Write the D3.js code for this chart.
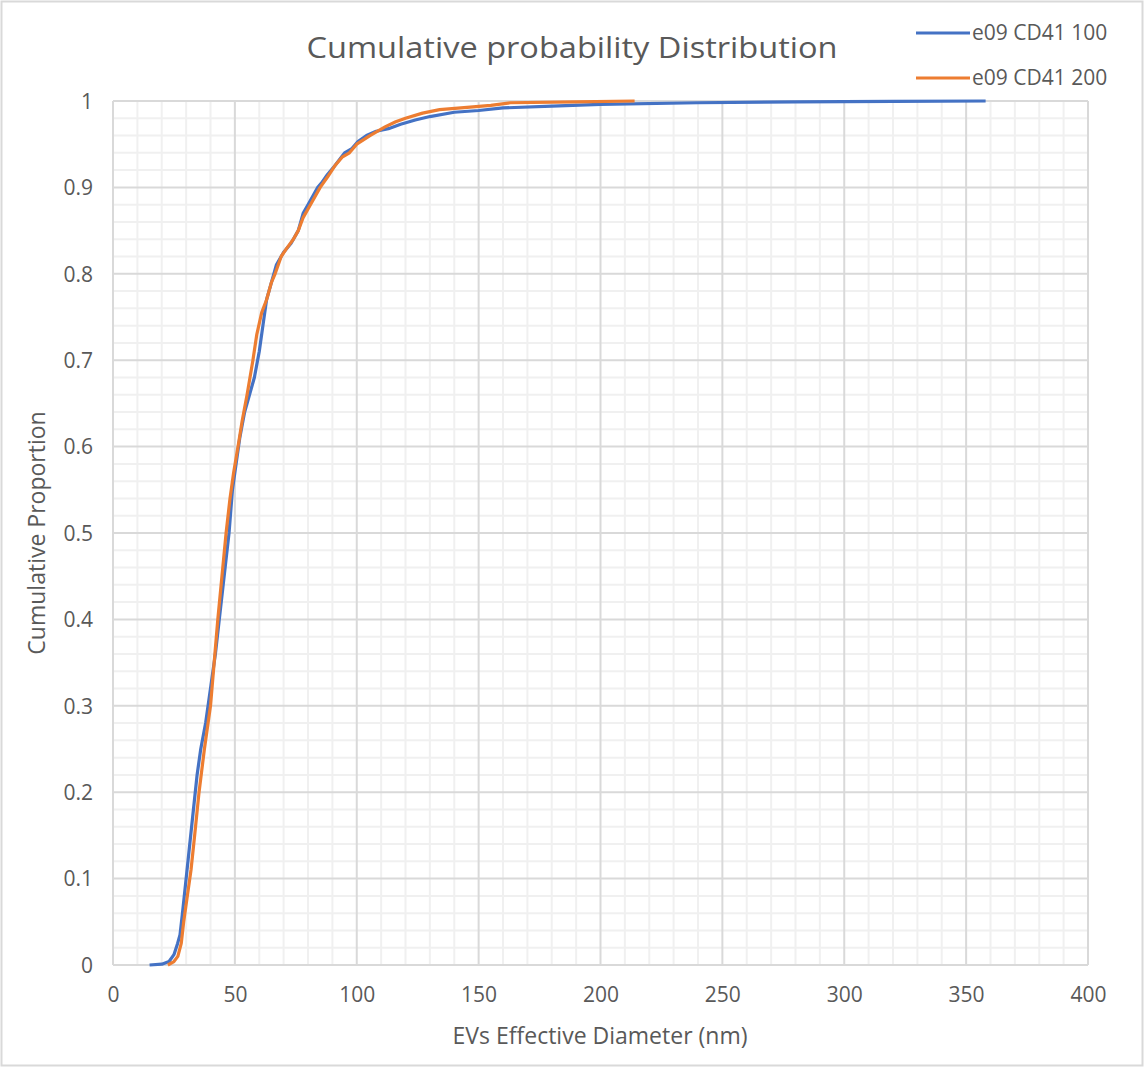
<!DOCTYPE html>
<html>
<head>
<meta charset="utf-8">
<script src="https://cdn.jsdelivr.net/npm/d3@7"></script>
<style>
  body { margin: 0; background: #fff; }
  text { font-family: "Open Sans", "Noto Sans", sans-serif; fill: #595959; }
</style>
</head>
<body>
<div id="chart"></div>
<script>
// values
let seriesNames = ["e09 CD41 100", "e09 CD41 200"];
let seriesColors = ["#4472C4", "#ED7D31"];

// [diameter nm, cumulative proportion]
let blue = [
    [15, 0], [20, 0.001], [23, 0.004], [25, 0.012], [26.5, 0.025], [27.5, 0.035],
    [28.5, 0.06], [30, 0.1], [31.5, 0.14], [33, 0.18], [34.5, 0.22], [36, 0.25],
    [38, 0.28], [40, 0.32], [42, 0.36], [44, 0.41], [46, 0.46], [47.6, 0.5],
    [49, 0.55], [50.5, 0.58], [52, 0.61], [54, 0.64], [56, 0.66], [58, 0.68],
    [60, 0.71], [61.5, 0.74], [63, 0.77], [65, 0.79], [67, 0.81], [70, 0.825],
    [73, 0.835], [76, 0.85], [78, 0.87], [80, 0.88], [82, 0.89], [84, 0.9],
    [85.5, 0.905], [88, 0.915], [91, 0.925], [95, 0.94], [98, 0.945], [100.5, 0.953],
    [104, 0.96], [108, 0.965], [113, 0.968], [118, 0.973], [124, 0.978], [130, 0.982],
    [140, 0.987], [150, 0.989], [160, 0.992], [180, 0.994], [200, 0.996], [240, 0.998],
    [280, 0.999], [320, 0.9995], [358, 1]
];
let orange = [
    [22.5, 0], [25, 0.004], [26.6, 0.01], [28, 0.025], [29, 0.05], [30.5, 0.08],
    [32, 0.11], [33.5, 0.15], [35.3, 0.2], [37.5, 0.25], [40, 0.3], [41.5, 0.35],
    [43, 0.4], [44.7, 0.45], [46.4, 0.5], [48, 0.54], [49.5, 0.57], [51.3, 0.6],
    [53, 0.63], [55, 0.66], [57.4, 0.7], [59, 0.73], [61, 0.755], [63, 0.77],
    [65, 0.79], [66.5, 0.8], [69, 0.82], [71.4, 0.83], [74, 0.84], [76, 0.85],
    [78, 0.865], [81, 0.88], [85, 0.9], [88, 0.912], [91, 0.925], [94, 0.935],
    [97, 0.94], [100, 0.95], [105.4, 0.96], [111.6, 0.97], [116, 0.976], [120, 0.98],
    [127, 0.986], [134, 0.99], [146.5, 0.993], [155, 0.995], [163, 0.998], [190, 0.999],
    [214, 1]
];
let seriesData = [blue, orange];

let xTicks = [0, 50, 100, 150, 200, 250, 300, 350, 400];
let yTicks = [0, 0.1, 0.2, 0.3, 0.4, 0.5, 0.6, 0.7, 0.8, 0.9, 1];
let xMinor = d3.range(0, 401, 10);
let yMinor = d3.range(0, 51).map(i => i / 50);

let chartTitle = "Cumulative probability Distribution";
let xTitle = "EVs Effective Diameter (nm)";
let yTitle = "Cumulative Proportion";

let W = 1144, H = 1067;
let margin = { top: 101, right: 56, bottom: 102, left: 113 };
let width = W - margin.left - margin.right;
let height = H - margin.top - margin.bottom;

let root = d3.select("#chart").append("svg")
    .attr("width", W)
    .attr("height", H);

// outer frame
root.append("rect")
    .attr("x", 1.5).attr("y", 1.5)
    .attr("width", W - 3).attr("height", H - 3)
    .attr("fill", "#fff")
    .attr("stroke", "#d9d9d9")
    .attr("stroke-width", 2);

let svg = root.append("g")
    .attr("transform", `translate(${margin.left},${margin.top})`);

let x = d3.scaleLinear().domain([0, 400]).range([0, width]);
let y = d3.scaleLinear().domain([0, 1]).range([height, 0]);

// minor grid
svg.append("g").selectAll("line")
    .data(xMinor.filter(d => d % 50 !== 0))
    .enter().append("line")
    .attr("x1", d => x(d)).attr("x2", d => x(d))
    .attr("y1", 0).attr("y2", height)
    .attr("stroke", "#f0f0f0").attr("stroke-width", 2);

svg.append("g").selectAll("line")
    .data(yMinor.filter((d, i) => i % 5 !== 0))
    .enter().append("line")
    .attr("x1", 0).attr("x2", width)
    .attr("y1", d => y(d)).attr("y2", d => y(d))
    .attr("stroke", "#f0f0f0").attr("stroke-width", 2);

// major grid
svg.append("g").selectAll("line")
    .data(xTicks)
    .enter().append("line")
    .attr("x1", d => x(d)).attr("x2", d => x(d))
    .attr("y1", 0).attr("y2", height)
    .attr("stroke", "#d9d9d9").attr("stroke-width", 2);

svg.append("g").selectAll("line")
    .data(yTicks)
    .enter().append("line")
    .attr("x1", 0).attr("x2", width)
    .attr("y1", d => y(d)).attr("y2", d => y(d))
    .attr("stroke", "#d9d9d9").attr("stroke-width", 2);

// axes (labels only, Excel style)
let xAxis = d3.axisBottom(x).tickValues(xTicks).tickSize(0).tickPadding(22);
let yAxis = d3.axisLeft(y).tickValues(yTicks).tickSize(0).tickPadding(20)
    .tickFormat(d => d === 0 || d === 1 ? d3.format("d")(d) : d3.format(".1f")(d));

let gx = svg.append("g").attr("transform", `translate(0,${height})`).call(xAxis);
let gy = svg.append("g").call(yAxis);
[gx, gy].forEach(g => {
    g.select(".domain").remove();
    g.selectAll("text").style("font-size", "21px").attr("fill", "#595959");
});
gy.selectAll("text").attr("dy", "0.35em");

// curves
let line = d3.line().x(d => x(d[0])).y(d => y(d[1]));

seriesData.forEach((s, i) => {
    svg.append("path")
        .datum(s)
        .attr("fill", "none")
        .attr("stroke", seriesColors[i])
        .attr("stroke-width", 3.2)
        .attr("stroke-linejoin", "round")
        .attr("d", line);
});

// titles
root.append("text")
    .attr("x", 572)
    .attr("y", 58)
    .attr("text-anchor", "middle")
    .attr("textLength", 531)
    .attr("lengthAdjust", "spacingAndGlyphs")
    .style("font-size", "30px")
    .text(chartTitle);

root.append("text")
    .attr("x", 600)
    .attr("y", 1044)
    .attr("text-anchor", "middle")
    .style("font-size", "23px")
    .text(xTitle);

root.append("text")
    .attr("transform", "rotate(-90)")
    .attr("x", -533)
    .attr("y", 45)
    .attr("text-anchor", "middle")
    .style("font-size", "23px")
    .text(yTitle);

// legend
let legend = root.append("g").attr("transform", "translate(916, 33)");
seriesNames.forEach((name, i) => {
    let g = legend.append("g").attr("transform", `translate(0, ${i * 45})`);
    g.append("line")
        .attr("x1", 0).attr("x2", 54)
        .attr("y1", 0).attr("y2", 0)
        .attr("stroke", seriesColors[i])
        .attr("stroke-width", 3.2);
    g.append("text")
        .attr("x", 56)
        .attr("y", 0)
        .attr("dy", "0.35em")
        .style("font-size", "21px")
        .text(name);
});
</script>
</body>
</html>
